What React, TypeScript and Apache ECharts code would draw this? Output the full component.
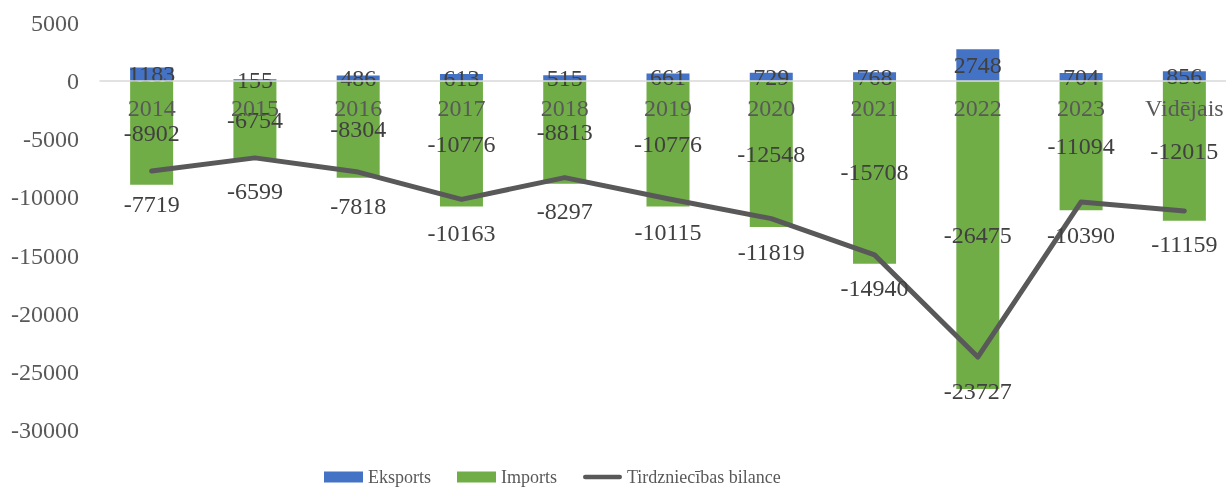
import React, { useEffect, useRef } from "react";
import * as echarts from "echarts";

const categories = ["2014", "2015", "2016", "2017", "2018", "2019", "2020", "2021", "2022", "2023", "Vidējais"];
const eksports = [1183, 155, 486, 613, 515, 661, 729, 768, 2748, 704, 856];
const imports = [-8902, -6754, -8304, -10776, -8813, -10776, -12548, -15708, -26475, -11094, -12015];
const bilance = [-7719, -6599, -7818, -10163, -8297, -10115, -11819, -14940, -23727, -10390, -11159];
const zeroLine = categories.map(() => 0);

const FONT = "'Liberation Serif', 'Times New Roman', serif";

export default function App() {
  const ref = useRef<HTMLDivElement>(null);
  useEffect(() => {
    if (!ref.current) return;
    const chart = echarts.init(ref.current, undefined, { renderer: "svg" });
    const labelStyle = { fontFamily: FONT, fontSize: 24, color: "#404040" };
    chart.setOption({
      animation: false,
      textStyle: { fontFamily: FONT },
      grid: { left: 100, right: 4, top: 23, bottom: 60, containLabel: false },
      legend: {
        top: 463,
        left: 319,
        itemWidth: 39,
        itemHeight: 11,
        itemGap: 26,
        textStyle: { fontFamily: FONT, fontSize: 18, color: "#595959" },
        data: [
          { name: "Eksports", icon: "rect" },
          { name: "Imports", icon: "rect" },
          {
            name: "Tirdzniecības bilance",
            icon: "path://M2.5,0 L39.5,0 A2.5,2.5 0 0 1 39.5,5 L2.5,5 A2.5,2.5 0 0 1 2.5,0 Z",
            itemStyle: { color: "#595959" },
          },
        ],
      },
      xAxis: {
        type: "category",
        data: categories,
        axisLine: { onZero: true, lineStyle: { color: "#d9d9d9", width: 1.5 } },
        axisTick: { show: false },
        axisLabel: { show: false },
        z: 10,
      },
      yAxis: {
        type: "value",
        min: -30000,
        max: 5000,
        interval: 5000,
        splitLine: { show: false },
        axisLine: { show: false },
        axisTick: { show: false },
        axisLabel: {
          fontFamily: FONT,
          fontSize: 24,
          color: "#595959",
          margin: 21,
          formatter: (v: number) => String(v),
        },
      },
      series: [
        {
          name: "Eksports",
          type: "bar",
          stack: "trade",
          data: eksports,
          barWidth: 43,
          itemStyle: { color: "#4472C4" },
          label: { show: true, position: "inside", ...labelStyle },
        },
        {
          name: "Imports",
          type: "bar",
          stack: "trade",
          data: imports,
          barWidth: 43,
          itemStyle: { color: "#70AD47" },
          label: { show: true, position: "inside", ...labelStyle },
        },
        {
          name: "Tirdzniecības bilance",
          type: "line",
          data: bilance,
          symbol: "circle",
          symbolSize: 1,
          showSymbol: true,
          lineStyle: { color: "#595959", width: 5, cap: "round", join: "round" },
          itemStyle: { color: "#595959" },
          label: { show: true, position: "bottom", distance: 21, ...labelStyle },
          z: 5,
        },
        {
          name: "categoryLabels",
          type: "line",
          data: zeroLine,
          symbol: "circle",
          symbolSize: 1,
          showSymbol: true,
          lineStyle: { width: 0, color: "transparent" },
          itemStyle: { color: "transparent", borderWidth: 0 },
          silent: true,
          label: {
            show: true,
            position: "bottom",
            distance: 14,
            fontFamily: FONT,
            fontSize: 24,
            color: "#595959",
            formatter: (p: any) => categories[p.dataIndex],
          },
          z: 6,
        },
      ],
    });
    return () => chart.dispose();
  }, []);
  return (
    <div style={{ position: "fixed", left: 0, top: 0, width: 1226, height: 490, overflow: "hidden" }}>
      <div ref={ref} style={{ width: 1240, height: 490 }} />
    </div>
  );
}
